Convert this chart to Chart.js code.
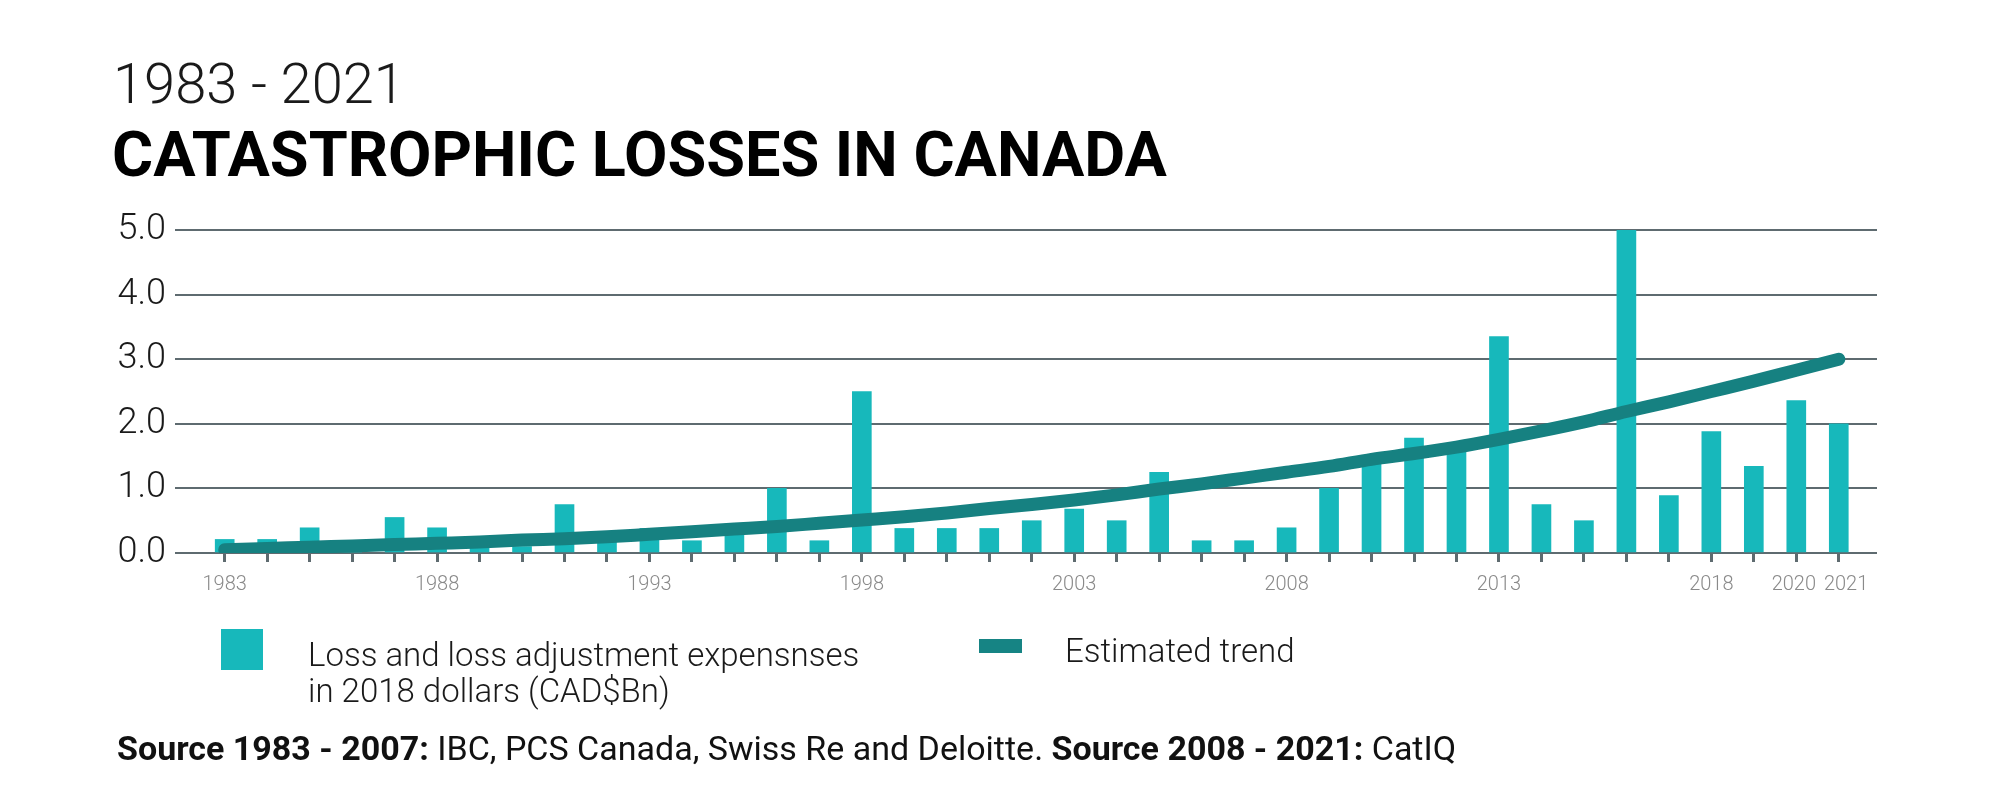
<!DOCTYPE html>
<html lang="en">
<head>
    <meta charset="UTF-8">
    <title>Catastrophic Losses in Canada 1983 - 2021</title>
    <script src="https://cdn.jsdelivr.net/npm/chart.js"></script>
    <style>
        * {
            margin: 0;
            padding: 0;
            box-sizing: border-box;
        }

        body {
            width: 2000px;
            height: 791px;
            background: #ffffff;
            font-family: Roboto, 'Open Sans', sans-serif;
            color: #1a1a1a;
            position: relative;
            overflow: hidden;
        }

        .years {
            position: absolute;
            left: 113px;
            top: 56px;
            font-size: 56px;
            line-height: 56px;
            font-weight: 300;
            white-space: nowrap;
        }

        .title {
            position: absolute;
            left: 112px;
            top: 123px;
            font-size: 63px;
            line-height: 63px;
            font-weight: 700;
            white-space: nowrap;
            color: #000;
        }

        .chart-box {
            position: absolute;
            left: 0;
            top: 0;
            width: 2000px;
            height: 791px;
        }

        .legend-item {
            position: absolute;
            font-size: 33px;
            line-height: 36px;
            font-weight: 300;
            white-space: nowrap;
        }

        .swatch {
            position: absolute;
        }

        .source {
            position: absolute;
            left: 117px;
            top: 731px;
            font-size: 34px;
            line-height: 34px;
            font-weight: 400;
            white-space: nowrap;
            color: #111;
        }

        .source b {
            font-weight: 700;
        }
    </style>
</head>
<body>
    <div class="chart-box"><canvas id="lossChart"></canvas></div>

    <div class="years">1983 - 2021</div>
    <div class="title">CATASTROPHIC LOSSES IN CANADA</div>

    <div class="swatch" style="left:221px; top:629px; width:42px; height:41px; background:#17b8bb;"></div>
    <div class="legend-item" style="left:308px; top:637px;">Loss and loss adjustment expensnses<br>in 2018 dollars (CAD$Bn)</div>

    <div class="swatch" style="left:979px; top:639px; width:43px; height:14px; background:#168484;"></div>
    <div class="legend-item" style="left:1065px; top:633px;">Estimated trend</div>

    <div class="source"><b>Source 1983 - 2007:</b> IBC, PCS Canada, Swiss Re and Deloitte. <b>Source 2008 - 2021:</b> CatIQ</div>

    <script>
        // years on the x axis, one bar per year
        const years = [
            1983, 1984, 1985, 1986, 1987, 1988, 1989, 1990, 1991, 1992,
            1993, 1994, 1995, 1996, 1997, 1998, 1999, 2000, 2001, 2002,
            2003, 2004, 2005, 2006, 2007, 2008, 2009, 2010, 2011, 2012,
            2013, 2014, 2015, 2016, 2017, 2018, 2019, 2020, 2021
        ];

        // loss and loss adjustment expenses, CAD$Bn (2018 dollars)
        const losses = [
            0.21, 0.21, 0.39, 0.15, 0.55, 0.39, 0.15, 0.10, 0.75, 0.20,
            0.38, 0.19, 0.30, 1.00, 0.19, 2.50, 0.38, 0.38, 0.38, 0.50,
            0.68, 0.50, 1.25, 0.19, 0.19, 0.39, 1.00, 1.50, 1.78, 1.62,
            3.35, 0.75, 0.50, 5.00, 0.89, 1.88, 1.34, 2.36, 2.00
        ];

        // estimated trend
        const trend = [
            0.05, 0.07, 0.09, 0.11, 0.13, 0.15, 0.17, 0.20, 0.22, 0.25,
            0.29, 0.33, 0.37, 0.41, 0.46, 0.51, 0.56, 0.62, 0.69, 0.75,
            0.82, 0.90, 0.99, 1.07, 1.16, 1.25, 1.34, 1.45, 1.54, 1.64,
            1.76, 1.89, 2.03, 2.19, 2.34, 2.50, 2.66, 2.83, 3.00
        ];

        // only these years get a label under their tick
        const labelYears = [1983, 1988, 1993, 1998, 2003, 2008, 2013, 2018, 2020, 2021];
        const yTicks = [0, 1, 2, 3, 4, 5];

        const barColor = '#17b8bb';
        const trendColor = '#168181';
        const gridColor = '#5e6b70';

        // 2020 and 2021 sit next to each other, nudge them apart a little
        function yearLabel(value) {
            if (!labelYears.includes(value)) return '';
            if (value === 2020) return '2020 ';
            if (value === 2021) return '   2021';
            return String(value);
        }

        const ctx = document.getElementById('lossChart').getContext('2d');

        new Chart(ctx, {
            data: {
                datasets: [
                    {
                        type: 'line',
                        label: 'Estimated trend',
                        data: years.map((y, i) => ({ x: y, y: trend[i] })),
                        borderColor: trendColor,
                        borderWidth: 13,
                        borderCapStyle: 'round',
                        borderJoinStyle: 'round',
                        pointRadius: 0,
                        tension: 0.4,
                        cubicInterpolationMode: 'monotone',
                        fill: false,
                        order: 0
                    },
                    {
                        type: 'bar',
                        label: 'Loss and loss adjustment expensnses in 2018 dollars (CAD$Bn)',
                        data: years.map((y, i) => ({ x: y, y: losses[i] })),
                        backgroundColor: barColor,
                        barThickness: 19,
                        order: 1
                    }
                ]
            },
            options: {
                responsive: true,
                maintainAspectRatio: false,
                animation: false,
                layout: {
                    padding: { left: 0, right: 123, top: 230, bottom: 0 }
                },
                plugins: {
                    legend: { display: false },
                    tooltip: { enabled: false }
                },
                scales: {
                    x: {
                        type: 'linear',
                        offset: false,
                        min: 1981.83,
                        max: 2021.9,
                        afterBuildTicks: (scale) => {
                            scale.ticks = years.map(v => ({ value: v }));
                        },
                        afterFit: (scale) => {
                            scale.height = 791 - 553;
                        },
                        border: { display: false },
                        grid: {
                            offset: false,
                            drawOnChartArea: false,
                            drawTicks: true,
                            tickLength: 9,
                            tickWidth: 3,
                            tickColor: gridColor
                        },
                        ticks: {
                            autoSkip: false,
                            maxRotation: 0,
                            padding: 11,
                            color: '#8a8a8a',
                            font: { family: 'Roboto', size: 20, weight: '300' },
                            callback: (value) => yearLabel(value)
                        }
                    },
                    y: {
                        min: 0,
                        max: 5,
                        afterBuildTicks: (scale) => {
                            scale.ticks = yTicks.map(v => ({ value: v }));
                        },
                        afterFit: (scale) => {
                            scale.width = 175;
                        },
                        border: { display: false },
                        grid: {
                            color: gridColor,
                            lineWidth: 2,
                            drawTicks: false
                        },
                        ticks: {
                            padding: 9,
                            color: '#1a1a1a',
                            font: { family: 'Roboto', size: 36, weight: '300' },
                            callback: (value) => Number(value).toFixed(1)
                        }
                    }
                }
            }
        });
    </script>
</body>
</html>
